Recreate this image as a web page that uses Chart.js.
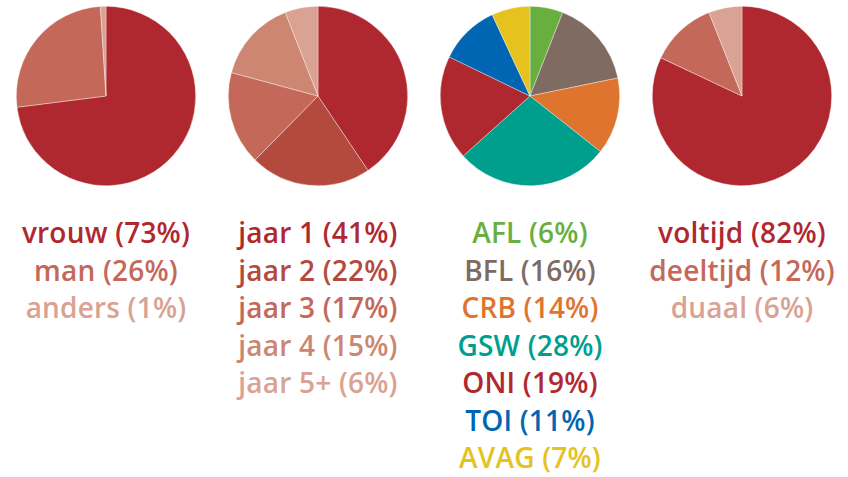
<!DOCTYPE html>
<html>
<head>
<meta charset="utf-8">
<script src="https://cdn.jsdelivr.net/npm/chart.js@4/dist/chart.umd.min.js"></script>
<style>
  html, body { margin: 0; padding: 0; background: #fff; }
  #wrap { width: 848px; height: 477px; display: flex; }
  .col { width: 212px; }
  .pie { position: relative; width: 212px; height: 192px; }
  .labels { margin-top: 22px; text-align: center; font-family: "Open Sans", Lato, sans-serif;
            font-weight: 600; font-size: 28px; line-height: 37.5px; letter-spacing: 0.2px; white-space: nowrap; }
</style>
</head>
<body>
<div id="wrap"></div>
<script>
// --- data ---
const genderLabels = ['vrouw', 'man', 'anders'];
const genderValues = [73, 26, 1];
const genderColors = ['#B0282F', '#C4695A', '#D9A292'];

const yearLabels = ['jaar 1', 'jaar 2', 'jaar 3', 'jaar 4', 'jaar 5+'];
const yearValues = [41, 22, 17, 15, 6];
const yearColors = ['#B0282F', '#B44A3E', '#C4695A', '#CD8671', '#D9A292'];

const deptLabels = ['AFL', 'BFL', 'CRB', 'GSW', 'ONI', 'TOI', 'AVAG'];
const deptValues = [6, 16, 14, 28, 19, 11, 7];
const deptColors = ['#69AF40', '#7F6B62', '#DF742F', '#009F8D', '#B0282F', '#0066B3', '#E6C21F'];

const modeLabels = ['voltijd', 'deeltijd', 'duaal'];
const modeValues = [82, 12, 6];
const modeColors = ['#B0282F', '#C4695A', '#D9A292'];

const groups = [
    { labels: genderLabels, values: genderValues, colors: genderColors },
    { labels: yearLabels, values: yearValues, colors: yearColors },
    { labels: deptLabels, values: deptValues, colors: deptColors },
    { labels: modeLabels, values: modeValues, colors: modeColors }
];

const wrap = document.getElementById('wrap');

groups.forEach((g, i) => {
    const col = document.createElement('div');
    col.className = 'col';
    const box = document.createElement('div');
    box.className = 'pie';
    const canvas = document.createElement('canvas');
    canvas.id = 'pie' + i;
    box.appendChild(canvas);
    col.appendChild(box);

    // labels under each pie, coloured like their slice
    const lab = document.createElement('div');
    lab.className = 'labels';
    g.labels.forEach((name, j) => {
        const line = document.createElement('div');
        line.style.color = g.colors[j];
        line.textContent = `${name} (${g.values[j]}%)`;
        lab.appendChild(line);
    });
    col.appendChild(lab);
    wrap.appendChild(col);

    new Chart(canvas.getContext('2d'), {
        type: 'pie',
        data: {
            labels: g.labels,
            datasets: [{
                data: g.values,
                backgroundColor: g.colors,
                borderColor: 'rgba(255,255,255,0.6)',
                borderWidth: 0.6
            }]
        },
        options: {
            responsive: true,
            maintainAspectRatio: false,
            animation: false,
            layout: { padding: 6 },
            plugins: { legend: { display: false }, tooltip: { enabled: false } }
        }
    });
});
</script>
</body>
</html>
